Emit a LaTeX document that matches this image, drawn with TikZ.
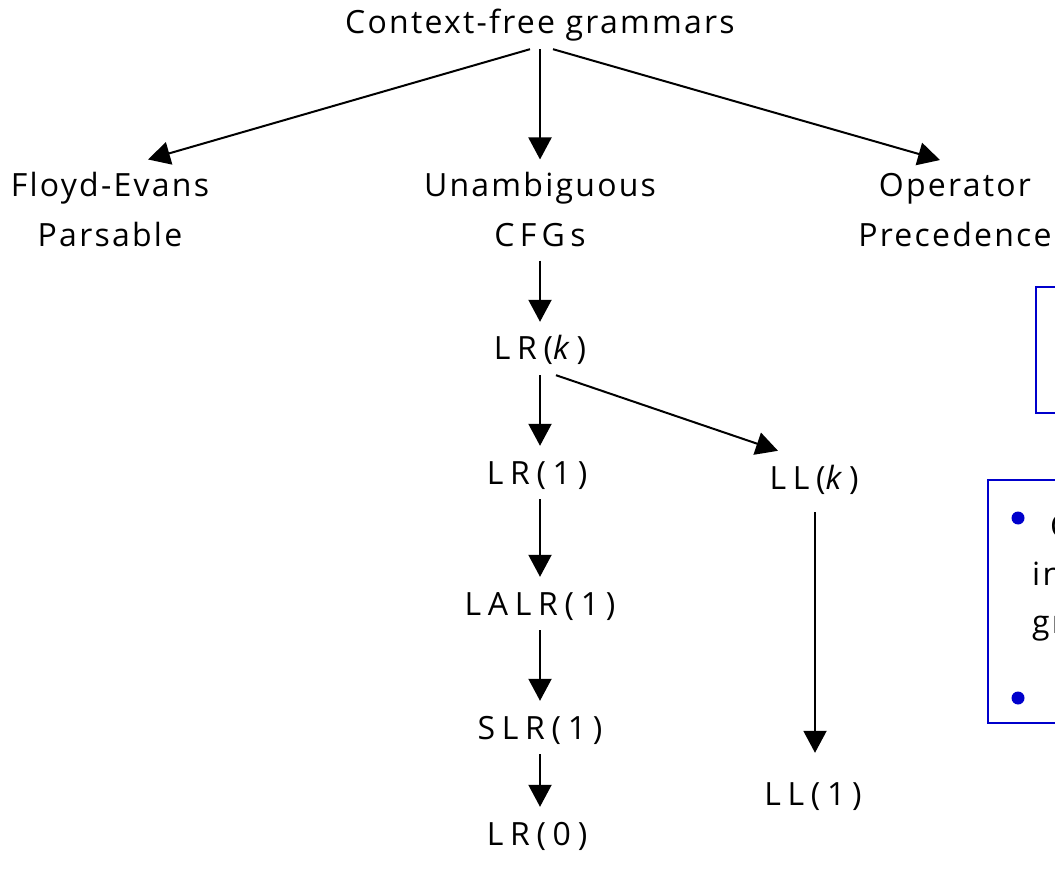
\documentclass[tikz,border=0pt]{standalone}
\usepackage{xcolor}
\usepackage{fontspec}
\setmainfont{Open Sans}[LetterSpace=7]
\newfontfamily\wideFont{Open Sans}[LetterSpace=21]
\usepackage{tikz}
\usetikzlibrary{arrows.meta,positioning}
\definecolor{NoteBlue}{HTML}{0000CC}
\tikzset{
  % Base text
  GT/.style={font=\fontsize{32}{50}\selectfont,text=black},
  % One-line grammar class
  SL/.style={GT,text height=23pt,text depth=0pt,
             inner xsep=0pt,inner ysep=15pt,anchor=base},
  % Abbreviated class, wider spacing
  AB/.style={SL,font=\fontsize{32}{50}\wideFont},
  % Two-line grammar class
  TL/.style={GT,align=center,inner xsep=0pt,inner ysep=13pt},
  % Arrow
  arr/.style={-{Triangle[length=22pt,width=23pt]},line width=2pt},
  % Note boxes
  NB/.style={draw=NoteBlue,line width=2pt},
  bul/.style={circle,fill=NoteBlue,inner sep=0pt,minimum size=13pt},
  NT/.style={GT,inner sep=0pt,anchor=base west}
}
\begin{document}
\begin{tikzpicture}[x=1pt,y=-1pt]
  \useasboundingbox (0,0) rectangle (1055,874);
  % grammar classes
  \node[SL] (cfg)   at (540,34)  {Context-free grammars};
  \node[TL] (floyd) at (110,210) {Floyd-Evans\\Parsable};
  \node[TL] (unamb) at (540,210) {Unambiguous\\{\wideFont C\,F\,G\,s}};
  \node[TL] (op)    at (955,210) {Operator\\Precedence};
  \node[AB] (lrk)   at (540,360) {LR(\textit{k})};
  \node[AB] (lr1)   at (537,484) {LR(1)};
  \node[AB] (llk)   at (814,489) {LL(\textit{k})};
  \node[AB] (lalr)  at (540,615) {LALR(1)};
  \node[AB] (slr)   at (540,739) {SLR(1)};
  \node[AB] (ll1)   at (813,805) {LL(1)};
  \node[AB] (lr0)   at (537,845) {LR(0)};
  % inclusions
  \draw[arr] ([xshift=-10pt]cfg.south) -- ([xshift=38pt]floyd.north);
  \draw[arr] (cfg.south) -- (unamb.north);
  \draw[arr] ([xshift=13pt]cfg.south) -- ([xshift=-15pt]op.north);
  \draw[arr] (unamb.south) -- (lrk.north);
  \draw[arr] (lrk.south) -- (lrk.south |- lr1.north);
  \draw[arr] ([xshift=16pt]lrk.south) -- ([xshift=-36pt]llk.north);
  \draw[arr] (lr1.south -| lrk.south) -- (lalr.north);
  \draw[arr] (lalr.south) -- (slr.north);
  \draw[arr] (slr.south) -- (slr.south |- lr0.north);
  \draw[arr] ([xshift=1pt,yshift=-8pt]llk.south) -- ([xshift=2pt,yshift=14pt]ll1.north);
  % note boxes (cut by the page edge)
  \draw[NB] (1036,287) rectangle (1090,413);
  \draw[NB] (988,480) rectangle (1090,723);
  \node[bul] (b1) at (1018,518) {};
  \node[bul] (b2) at (1018,698) {};
  \node[NT] (n1) at (1050,537) {C};
  \node[NT] (n2) at (1032,585) {in};
  \node[NT] (n3) at (1032,633) {gr};
  \node[NT] (n4) at (1053,713) {l};
\end{tikzpicture}
\end{document}
